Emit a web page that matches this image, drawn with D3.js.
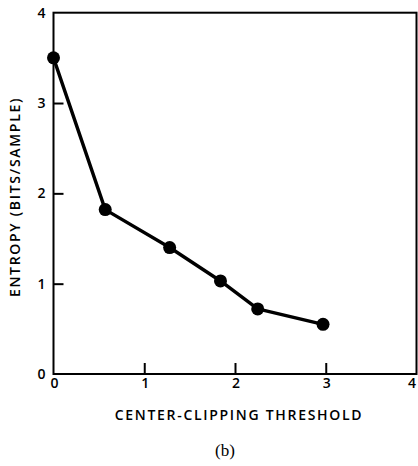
<!DOCTYPE html>
<html><head><meta charset="utf-8">
<script src="https://cdn.jsdelivr.net/npm/d3@7"></script>
<style>body{margin:0;background:#fff}svg{display:block}</style>
</head><body>
<script>
const xValues = [0, 0.57, 1.28, 1.84, 2.25, 2.97];
const yValues = [3.5, 1.82, 1.40, 1.03, 0.72, 0.55];
const xTicks = [0, 1, 2, 3, 4];
const yTicks = [0, 1, 2, 3, 4];
const xTitle = "CENTER-CLIPPING THRESHOLD";
const yTitle = "ENTROPY (BITS/SAMPLE)";
const caption = "(b)";

const W = 418, H = 466;
const m = {left: 53.5, top: 12.7, right: 1.5, bottom: 92};
const svg = d3.select("body").append("svg").attr("width", W).attr("height", H);
const x = d3.scaleLinear().domain([0, 4]).range([m.left, W - m.right]);
const y = d3.scaleLinear().domain([0, 4]).range([H - m.bottom, m.top]);
const font = "'Open Sans', sans-serif";

// frame
svg.append("rect").attr("x", x(0)).attr("y", y(4))
  .attr("width", x(4) - x(0)).attr("height", y(0) - y(4))
  .attr("fill", "none").attr("stroke", "#000").attr("stroke-width", 2);

// inward ticks
svg.append("g").attr("transform", `translate(0,${y(0)})`)
  .call(d3.axisTop(x).tickValues(xTicks.slice(1, -1)).tickSize(11).tickFormat(""))
  .call(g => g.select(".domain").remove())
  .call(g => g.selectAll("line").attr("stroke-width", 2));
svg.append("g").attr("transform", `translate(${x(0)},0)`)
  .call(d3.axisRight(y).tickValues(yTicks.slice(1, -1)).tickSize(10).tickFormat(""))
  .call(g => g.select(".domain").remove())
  .call(g => g.selectAll("line").attr("stroke-width", 2));

// tick labels
svg.append("g").selectAll("text").data(xTicks).join("text")
  .attr("x", d => Math.min(x(d) + 1, W - 6)).attr("y", y(0) + 14)
  .attr("text-anchor", "middle").attr("font-family", font).attr("font-weight", 600)
  .attr("font-size", 14).text(d => d);
svg.append("g").selectAll("text").data(yTicks).join("text")
  .attr("x", x(0) - 12).attr("y", d => y(d) + 5)
  .attr("text-anchor", "middle").attr("font-family", font).attr("font-weight", 600)
  .attr("font-size", 14).text(d => d);

// titles
svg.append("text").attr("x", 239).attr("y", 420)
  .attr("text-anchor", "middle").attr("font-family", font).attr("font-weight", 600)
  .attr("font-size", 14).attr("letter-spacing", 1.7).text(xTitle);
svg.append("text").attr("transform", `translate(20,197) rotate(-90)`)
  .attr("text-anchor", "middle").attr("font-family", font).attr("font-weight", 600)
  .attr("font-size", 14).attr("letter-spacing", 1.7).text(yTitle);
svg.append("text").attr("x", 225).attr("y", 456)
  .attr("text-anchor", "middle").attr("font-family", "'Liberation Serif', serif")
  .attr("font-size", 17).text(caption);

// line + markers
const pts = xValues.map((v, i) => [v, yValues[i]]);
svg.append("path").datum(pts)
  .attr("d", d3.line().x(d => x(d[0])).y(d => y(d[1])))
  .attr("fill", "none").attr("stroke", "#000").attr("stroke-width", 3.4)
  .attr("stroke-linejoin", "round");
svg.append("g").selectAll("circle").data(pts).join("circle")
  .attr("cx", d => x(d[0])).attr("cy", d => y(d[1])).attr("r", 6.5).attr("fill", "#000");
</script>
</body></html>
